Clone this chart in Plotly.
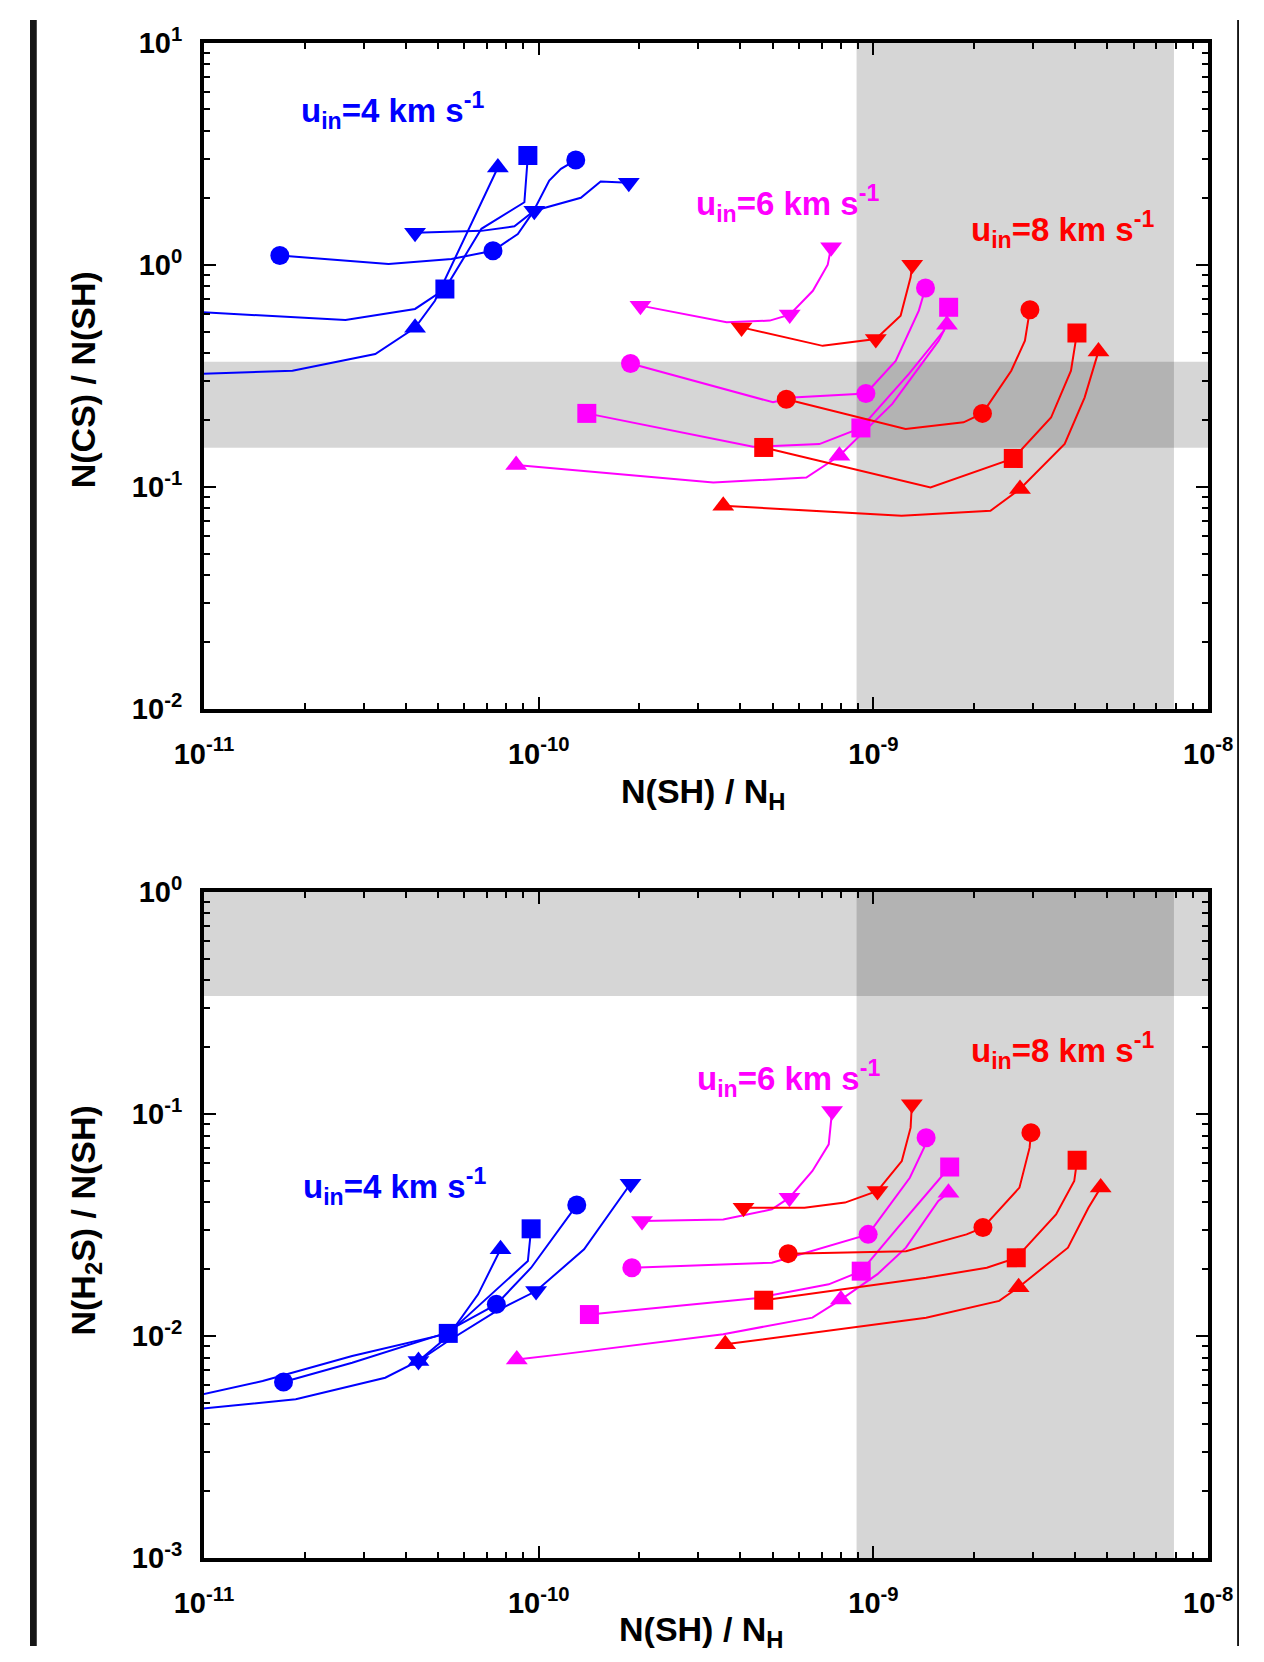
import plotly.graph_objects as go

# ---------------- data ----------------
# Each entry: symbol -> (N(SH)/N_H values, ratio values, indices that carry a marker)
CS_U4 = {
    "circle": ([1.685e-11, 3.56e-11, 5.49e-11, 7.30e-11, 8.66e-11, 9.60e-11, 1.075e-10, 1.165e-10, 1.29e-10],
               [1.10, 1.007, 1.061, 1.156, 1.375, 1.72, 2.39, 2.70, 2.96], [0, 3, 8]),
    "square": ([9.0e-12, 2.646e-11, 4.271e-11, 5.244e-11, 6.74e-11, 9.06e-11, 9.28e-11],
               [0.615, 0.564, 0.632, 0.777, 1.45, 1.91, 3.10], [3, 6]),
    "triangle-up": ([9.0e-12, 1.838e-11, 3.249e-11, 4.271e-11, 4.897e-11, 7.55e-11],
                    [0.321, 0.333, 0.396, 0.52, 0.688, 2.74], [3, 5]),
    "triangle-down": ([4.271e-11, 6.74e-11, 8.46e-11, 9.70e-11, 1.336e-10, 1.531e-10, 1.858e-10],
                      [1.394, 1.42, 1.488, 1.75, 2.00, 2.37, 2.34], [0, 3, 6]),
}
CS_U6 = {
    "triangle-down": ([2.013e-10, 3.642e-10, 4.90e-10, 5.62e-10, 6.59e-10, 7.30e-10, 7.47e-10],
                      [0.654, 0.550, 0.560, 0.596, 0.763, 1.0, 1.197], [0, 3, 6]),
    "circle": ([1.880e-10, 5.01e-10, 5.74e-10, 8.46e-10, 9.49e-10, 1.165e-9, 1.366e-9, 1.430e-9],
               [0.359, 0.240, 0.2525, 0.2615, 0.263, 0.369, 0.621, 0.785], [0, 4, 7]),
    "square": ([1.392e-10, 4.37e-10, 6.89e-10, 9.17e-10, 1.276e-9, 1.621e-9, 1.677e-9],
               [0.214, 0.1514, 0.1557, 0.184, 0.322, 0.504, 0.643], [0, 3, 6]),
    "triangle-up": ([8.56e-11, 3.323e-10, 6.30e-10, 7.91e-10, 1.138e-9, 1.566e-9, 1.658e-9],
                    [0.1252, 0.1045, 0.1101, 0.1379, 0.236, 0.455, 0.537], [0, 3, 6]),
}
CS_U8 = {
    "triangle-down": ([4.035e-10, 7.05e-10, 1.016e-9, 1.205e-9, 1.291e-9, 1.305e-9],
                      [0.522, 0.431, 0.463, 0.589, 0.877, 1.0], [0, 2, 5]),
    "circle": ([5.49e-10, 1.247e-9, 1.858e-9, 2.116e-9, 2.580e-9, 2.834e-9, 2.933e-9],
               [0.248, 0.182, 0.195, 0.214, 0.333, 0.455, 0.627], [0, 3, 6]),
    "square": ([4.70e-10, 1.480e-9, 2.616e-9, 3.392e-9, 3.89e-9, 4.053e-9],
               [0.1503, 0.0993, 0.1341, 0.205, 0.333, 0.492], [0, 2, 5]),
    "triangle-up": ([3.558e-10, 1.213e-9, 2.236e-9, 2.739e-9, 3.725e-9, 4.272e-9, 4.70e-9],
                    [0.0821, 0.0741, 0.078, 0.0977, 0.156, 0.252, 0.407], [0, 3, 6]),
}

H2S_U4 = {
    "circle": ([1.728e-11, 2.771e-11, 5.127e-11, 7.47e-11, 9.49e-11, 1.299e-10],
               [0.00621, 0.00758, 0.01018, 0.01389, 0.02031, 0.0389], [0, 3, 5]),
    "square": ([9.0e-12, 1.497e-11, 2.771e-11, 5.367e-11, 9.28e-11, 9.49e-11],
               [0.0053, 0.00627, 0.00813, 0.01028, 0.02177, 0.0304], [3, 5]),
    "triangle-up": ([9.0e-12, 1.880e-11, 3.479e-11, 4.372e-11, 5.367e-11, 6.59e-11, 7.69e-11],
                    [0.00465, 0.00519, 0.00649, 0.00772, 0.0100, 0.01541, 0.02458], [3, 6]),
    "triangle-down": ([4.372e-11, 5.367e-11, 7.47e-11, 9.82e-11, 1.366e-10, 1.880e-10],
                      [0.00772, 0.0095, 0.01296, 0.01595, 0.02458, 0.0485], [0, 3, 5]),
}
H2S_U6 = {
    "triangle-down": ([2.035e-10, 3.558e-10, 4.97e-10, 5.61e-10, 6.57e-10, 7.35e-10, 7.52e-10],
                      [0.0330, 0.0335, 0.0372, 0.0420, 0.0554, 0.0730, 0.1031], [0, 3, 6]),
    "circle": ([1.898e-10, 4.97e-10, 9.64e-10, 1.284e-9, 1.416e-9, 1.436e-9],
               [0.0203, 0.0214, 0.0287, 0.0516, 0.0705, 0.0782], [0, 2, 5]),
    "square": ([1.417e-10, 4.45e-10, 7.35e-10, 9.19e-10, 1.182e-9, 1.436e-9, 1.689e-9],
               [0.0125, 0.0148, 0.0171, 0.0196, 0.0308, 0.0435, 0.0577], [0, 3, 6]),
    "triangle-up": ([8.6e-11, 1.165e-10, 3.558e-10, 6.57e-10, 7.99e-10, 1.028e-9, 1.250e-9, 1.562e-9, 1.675e-9],
                    [0.00785, 0.00827, 0.0102, 0.0121, 0.0146, 0.0190, 0.0250, 0.0406, 0.0442], [0, 4, 8]),
}
H2S_U8 = {
    "triangle-down": ([4.09e-10, 6.22e-10, 8.22e-10, 1.028e-9, 1.215e-9, 1.291e-9, 1.302e-9],
                      [0.0378, 0.0378, 0.0399, 0.0450, 0.0614, 0.0868, 0.1106], [0, 3, 6]),
    "circle": ([5.56e-10, 1.250e-9, 1.897e-9, 2.123e-9, 2.729e-9, 2.927e-9, 2.953e-9],
               [0.0235, 0.0241, 0.0287, 0.0308, 0.0466, 0.0705, 0.0824], [0, 3, 6]),
    "square": ([4.70e-10, 1.436e-9, 2.18e-9, 2.670e-9, 3.511e-9, 3.978e-9, 4.058e-9],
               [0.0145, 0.0183, 0.0203, 0.0225, 0.0353, 0.0499, 0.0619], [0, 3, 6]),
    "triangle-up": ([3.607e-10, 1.436e-9, 2.374e-9, 2.714e-9, 3.810e-9, 4.386e-9, 4.772e-9],
                    [0.00918, 0.0121, 0.0144, 0.0166, 0.0250, 0.0378, 0.0466], [0, 3, 6]),
}

OBS_SH = [8.9e-10, 7.9e-9]          # observed N(SH)/N_H range (vertical band)
OBS_CS = [0.150, 0.366]             # observed N(CS)/N(SH) range
OBS_H2S = [0.34, 1.0]               # observed N(H2S)/N(SH) range

X_TICKS = [1e-11, 1e-10, 1e-9, 1e-8]
X_TICK_TEXT = ["10<sup>-11</sup>", "10<sup>-10</sup>", "10<sup>-9</sup>", "10<sup>-8</sup>"]
Y1_TICKS = [1e-2, 1e-1, 1e0, 1e1]
Y1_TICK_TEXT = ["10<sup>-2</sup>", "10<sup>-1</sup>", "10<sup>0</sup>", "10<sup>1</sup>"]
Y2_TICKS = [1e-3, 1e-2, 1e-1, 1e0]
Y2_TICK_TEXT = ["10<sup>-3</sup>", "10<sup>-2</sup>", "10<sup>-1</sup>", "10<sup>0</sup>"]

LABELS = ["u<sub>in</sub>=4 km s<sup>-1</sup>", "u<sub>in</sub>=6 km s<sup>-1</sup>",
          "u<sub>in</sub>=8 km s<sup>-1</sup>"]

# ---------------- styling ----------------
W, H = 1264, 1662
BLUE, MAGENTA, RED = "#0000ff", "#ff00ff", "#ff0000"
FONT = "Liberation Sans, Arial, Helvetica, sans-serif"
DARK = "#151515"
MSIZE = {"circle": 19, "square": 19, "triangle-up": 19, "triangle-down": 19}

# the page is photographed slightly scaled/offset; place elements in page pixels
SX, BX, SY, BY = 0.961, 27.2, 0.978, 19.4

def px(x):
    return ((x - BX) / SX) / W

def py(y):
    return 1 - ((y - BY) / SY) / H

fig = go.Figure()

def add_group(data, color, xa, ya):
    for sym, (xs, ys, marks) in data.items():
        fig.add_trace(go.Scatter(x=xs, y=ys, mode="lines", xaxis=xa, yaxis=ya,
                                 line=dict(color=color, width=2), showlegend=False,
                                 hoverinfo="skip"))
        fig.add_trace(go.Scatter(x=[xs[i] for i in marks], y=[ys[i] for i in marks],
                                 mode="markers", xaxis=xa, yaxis=ya, showlegend=False,
                                 marker=dict(symbol=sym, size=MSIZE[sym], color=color,
                                             line=dict(width=0))))

add_group(CS_U4, BLUE, "x", "y")
add_group(CS_U6, MAGENTA, "x", "y")
add_group(CS_U8, RED, "x", "y")
add_group(H2S_U4, BLUE, "x2", "y2")
add_group(H2S_U6, MAGENTA, "x2", "y2")
add_group(H2S_U8, RED, "x2", "y2")

BAND = "rgba(0,0,0,0.16)"
shapes = [
    dict(type="rect", xref="x", yref="y domain", x0=OBS_SH[0], x1=OBS_SH[1], y0=0, y1=1,
         fillcolor=BAND, line=dict(width=0), layer="below"),
    dict(type="rect", xref="x domain", yref="y", x0=0, x1=1, y0=OBS_CS[0], y1=OBS_CS[1],
         fillcolor=BAND, line=dict(width=0), layer="below"),
    dict(type="rect", xref="x2", yref="y2 domain", x0=OBS_SH[0], x1=OBS_SH[1], y0=0, y1=1,
         fillcolor=BAND, line=dict(width=0), layer="below"),
    dict(type="rect", xref="x2 domain", yref="y2", x0=0, x1=1, y0=OBS_H2S[0], y1=OBS_H2S[1],
         fillcolor=BAND, line=dict(width=0), layer="below"),
]
# dark frame of the page (left and right strips)
for (x0, x1) in [(-10, 34), (1240, 1300)]:
    shapes.append(dict(type="rect", xref="paper", yref="paper",
                       x0=max(px(x0), 0), x1=min(px(x1), 1), y0=0, y1=1,
                       fillcolor=DARK, line=dict(width=0), layer="above"))

minor_vals_x = [m * 10.0 ** e for e in range(-11, -8) for m in range(2, 10)]
minor_vals_y1 = [m * 10.0 ** e for e in range(-2, 1) for m in range(2, 10)]
minor_vals_y2 = [m * 10.0 ** e for e in range(-3, 0) for m in range(2, 10)]

TICKFONT = dict(family=FONT, size=29, color="black", weight="bold")

def xaxis(domain, anchor):
    return dict(type="log", domain=domain, anchor=anchor, range=[-11, -8],
                tickmode="array", tickvals=X_TICKS, ticktext=X_TICK_TEXT,
                ticks="inside", ticklen=12, tickwidth=2, tickcolor="black",
                minor=dict(tickmode="array", tickvals=minor_vals_x, ticks="inside",
                           ticklen=6, tickwidth=2, tickcolor="black", showgrid=False),
                showline=True, linewidth=4, linecolor="black", mirror="allticks",
                showgrid=False, zeroline=False, ticklabelstandoff=16,
                tickfont=TICKFONT)

def yaxis(domain, anchor, rng, vals, text, minor_vals):
    return dict(type="log", domain=domain, anchor=anchor, range=rng,
                tickmode="array", tickvals=vals, ticktext=text,
                ticks="inside", ticklen=12, tickwidth=2, tickcolor="black",
                minor=dict(tickmode="array", tickvals=minor_vals, ticks="inside",
                           ticklen=6, tickwidth=2, tickcolor="black", showgrid=False),
                showline=True, linewidth=4, linecolor="black", mirror="allticks",
                showgrid=False, zeroline=False, ticklabelstandoff=12,
                tickfont=TICKFONT)

XD = [px(202), px(1211)]
fig.update_layout(
    width=W, height=H, margin=dict(l=0, r=0, t=0, b=0),
    paper_bgcolor="white", plot_bgcolor="white",
    xaxis=xaxis(XD, "y"),
    yaxis=yaxis([py(708), py(42)], "x", [-2, 1], Y1_TICKS, Y1_TICK_TEXT, minor_vals_y1),
    xaxis2=xaxis(XD, "y2"),
    yaxis2=yaxis([py(1557), py(891)], "x2", [-3, 0], Y2_TICKS, Y2_TICK_TEXT, minor_vals_y2),
    shapes=shapes,
    showlegend=False,
)

ann = []
def label(text, x, y, color, size=28, angle=0):
    ann.append(dict(text=text, x=px(x), y=py(y), xref="paper", yref="paper",
                    showarrow=False, textangle=angle, xanchor="center", yanchor="middle",
                    font=dict(family=FONT, size=size, color=color, weight="bold")))

label(LABELS[0], 391, 110, BLUE, 33)
label(LABELS[1], 788, 203, MAGENTA, 33)
label(LABELS[2], 1065, 229, RED, 33)
label(LABELS[0], 393, 1185, BLUE, 33)
label(LABELS[1], 789, 1078, MAGENTA, 33)
label(LABELS[2], 1065, 1050, RED, 33)

label("N(SH) / N<sub>H</sub>", 704, 793, "black", 34)
label("N(SH) / N<sub>H</sub>", 702, 1630, "black", 34)
label("N(CS) / N(SH)", 80, 379, "black", 34, -90)
label("N(H<sub>2</sub>S) / N(SH)", 82, 1220, "black", 34, -90)
fig.update_layout(annotations=ann)

BG_JS = (
    "document.body.style.background='#151515';"
    "document.body.style.margin='0';document.body.style.padding='0';"
)
fig.write_html("out.html", config={"displayModeBar": False}, post_script=BG_JS)
